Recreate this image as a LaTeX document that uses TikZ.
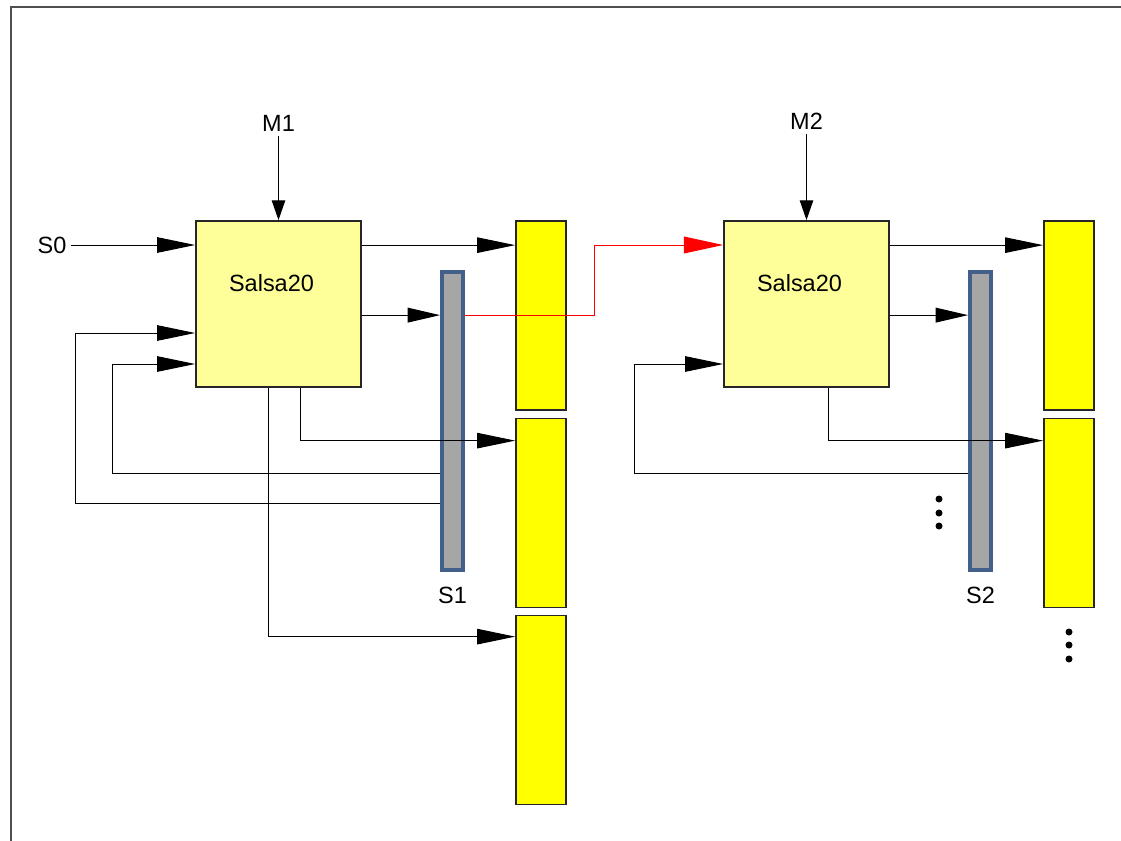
\documentclass[tikz,border=0pt]{standalone}
\usepackage{fontspec}
\setmainfont{Liberation Sans}
\usetikzlibrary{arrows.meta, positioning, calc}

\definecolor{salsafill}{HTML}{FFFF99}
\definecolor{keyyellow}{HTML}{FFFF00}
\definecolor{statefill}{HTML}{A6A6A6}
\definecolor{stateedge}{HTML}{42608A}
\definecolor{framegray}{HTML}{505050}

\begin{document}
\begin{tikzpicture}[
    x=0.025cm, y=-0.025cm,
    font=\fontsize{16.7pt}{20pt}\selectfont,
    salsa/.style={rectangle, draw=black!85, fill=salsafill, line width=1.2pt, inner sep=0pt, minimum width=4.125cm, minimum height=4.15cm},
    keyblock/.style={rectangle, draw=black!85, fill=keyyellow, line width=1.2pt, inner sep=0pt, minimum width=1.25cm, minimum height=4.725cm},
    statebar/.style={rectangle, draw=stateedge, fill=statefill, line width=2.8pt, inner sep=0pt, minimum width=0.525cm, minimum height=7.45cm},
    line/.style={draw, line width=0.7pt},
    arr/.style={line, -{Triangle[length=27pt, width=11pt]}},
    barr/.style={line, -{Triangle[length=23pt, width=10.5pt]}},
    marr/.style={line, -{Triangle[length=14pt, width=9.5pt]}},
    redarr/.style={line, red, -{Triangle[length=28pt, width=12pt]}}
]
    \useasboundingbox (0,0) rectangle (1121,841);

    % Frame
    \draw[framegray, line width=1.4pt] (11,841) -- (11,7) -- (1121,7);

    % First Salsa20 round
    \node[salsa, label={[xshift=-0.175cm, yshift=0.525cm]center:Salsa20}] (salsaA) at (278.5,304) {};
    \node[statebar] (barA) at (452.5,421) {};
    \node[keyblock] (keyA1) at (541,315.5) {};
    \node[keyblock] (keyA2) at (541,513) {};
    \node[keyblock] (keyA3) at (541,710) {};
    \node[above=2.1cm of salsaA] (m1) {M1};
    \node[below=0.25cm of barA] (s1) {S1};
    \node (s0) at (52,245) {S0};

    % Second Salsa20 round
    \node[salsa, label={[xshift=-0.175cm, yshift=0.525cm]center:Salsa20}] (salsaB) at (806.5,304) {};
    \node[statebar] (barB) at (980.5,421) {};
    \node[keyblock] (keyB1) at (1069,315.5) {};
    \node[keyblock] (keyB2) at (1069,513) {};
    \node[above=2.15cm of salsaB] (m2) {M2};
    \node[below=0.25cm of barB] (s2) {S2};

    % Connections, first round
    \draw[marr] (m1) -- (salsaA);
    \draw[arr] (s0) -- (salsaA.west |- s0);
    \draw[arr] ($(salsaA.north east)+(0,25)$) coordinate (outA) -- (outA -| keyA1.west);
    \draw[barr] ($(salsaA.north east)+(0,95)$) coordinate (midA) -- (midA -| barA.west);
    \draw[arr] ($(salsaA.south west)+(105,0)$) |- ($(keyA2.north west)+(0,23)$);
    \draw[arr] ($(salsaA.south west)+(73,0)$) |- ($(keyA3.north west)+(0,22)$);
    \coordinate (fbA1) at (112,364);
    \coordinate (fbA2) at (75,333);
    \draw[arr] ($(barA.north west)+(0,203)$) -| (fbA1) -- (salsaA.west |- fbA1);
    \draw[arr] ($(barA.north west)+(0,233)$) -| (fbA2) -- (salsaA.west |- fbA2);

    % State S1 into the next round
    \coordinate (bend) at (594,245);
    \draw[redarr] (midA -| barA.east) -| (bend) -- (salsaB.west |- bend);

    % Connections, second round
    \draw[marr] (m2) -- (salsaB);
    \draw[arr] ($(salsaB.north east)+(0,25)$) coordinate (outB) -- (outB -| keyB1.west);
    \draw[barr] ($(salsaB.north east)+(0,95)$) coordinate (midB) -- (midB -| barB.west);
    \draw[arr] ($(salsaB.south west)+(105,0)$) |- ($(keyB2.north west)+(0,23)$);
    \coordinate (fbB1) at (634,364);
    \draw[arr] ($(barB.north west)+(0,203)$) -| (fbB1) -- (salsaB.west |- fbB1);

    % Dots
    \foreach \y in {499,513,526} \fill (939,\y) circle (0.0875cm);
    \foreach \y in {632,645,659} \fill (1069,\y) circle (0.0875cm);
\end{tikzpicture}
\end{document}
